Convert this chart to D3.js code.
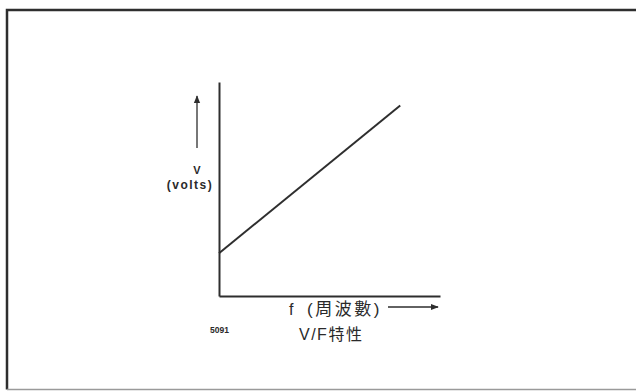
<!DOCTYPE html>
<html>
<head>
<meta charset="utf-8">
<script src="https://cdn.jsdelivr.net/npm/d3@7"></script>
<style>
  html, body { margin: 0; padding: 0; background: #fff; }
  svg { display: block; }
  text { fill: #2a2a2a; font-family: "Liberation Sans", "Noto Sans CJK TC", sans-serif; }
</style>
</head>
<body>
<svg id="chart" width="636" height="391"></svg>
<script>
// V/F characteristic: voltage rises linearly with frequency from a non-zero offset
const freq = [0, 82];
const volts = [20, 89];
const xSymbol = "f";
const xLabel = "(周波數)";
const yLabel = ["V", "(volts)"];
const title = "V/F特性";
const figNo = "5091";

const svg = d3.select("#chart");
const ink = "#2e2e2e";

// frame around the figure
svg.append("path")
  .attr("d", "M636,10 L7,10 L7,389.5")
  .attr("fill", "none").attr("stroke", ink).attr("stroke-width", 2.5);
svg.append("path")
  .attr("d", "M7,389.5 L636,389.5")
  .attr("fill", "none").attr("stroke", "#9a9a9a").attr("stroke-width", 1.5);

const x = d3.scaleLinear().domain([0, 100]).range([219, 440]);
const y = d3.scaleLinear().domain([0, 100]).range([296, 82]);

// axes without ticks
svg.append("g")
  .attr("transform", `translate(${x(0)},0)`)
  .call(d3.axisLeft(y).tickValues([]).tickSizeOuter(0))
  .call(g => g.select(".domain").attr("stroke", ink).attr("stroke-width", 2));
svg.append("g")
  .attr("transform", `translate(0,${y(0)})`)
  .call(d3.axisBottom(x).tickValues([]).tickSizeOuter(0))
  .call(g => g.select(".domain").attr("stroke", ink).attr("stroke-width", 2));

// characteristic line
const pts = freq.map((f, i) => [f, volts[i]]);
svg.append("path")
  .datum(pts)
  .attr("fill", "none")
  .attr("stroke", ink)
  .attr("stroke-width", 2)
  .attr("d", d3.line().x(d => x(d[0])).y(d => y(d[1])));

// arrow marker
svg.append("defs").append("marker")
  .attr("id", "arrow")
  .attr("viewBox", "0 0 10 10")
  .attr("refX", 9).attr("refY", 5)
  .attr("markerWidth", 8).attr("markerHeight", 8)
  .attr("markerUnits", "userSpaceOnUse")
  .attr("orient", "auto")
  .append("path").attr("d", "M0,1 L10,5 L0,9 Z").attr("fill", ink);

// vertical arrow and y label
svg.append("line")
  .attr("x1", 197).attr("y1", 148).attr("x2", 197).attr("y2", 96)
  .attr("stroke", ink).attr("stroke-width", 1.3).attr("marker-end", "url(#arrow)");
svg.append("text").attr("x", 197).attr("y", 174)
  .attr("text-anchor", "middle").attr("font-size", 11).attr("font-weight", "bold")
  .text(yLabel[0]);
svg.append("text").attr("x", 190).attr("y", 189)
  .attr("text-anchor", "middle").attr("font-size", 12).attr("font-weight", "bold")
  .attr("letter-spacing", 1.5)
  .text(yLabel[1]);

// horizontal label and arrow
svg.append("text").attr("x", 289).attr("y", 315)
  .attr("font-size", 16)
  .text(xSymbol);
svg.append("text").attr("x", 307).attr("y", 315)
  .attr("font-size", 17).attr("letter-spacing", 2.5)
  .text(xLabel);
svg.append("line")
  .attr("x1", 388).attr("y1", 307).attr("x2", 438).attr("y2", 307)
  .attr("stroke", ink).attr("stroke-width", 1.3).attr("marker-end", "url(#arrow)");

// figure number and caption
svg.append("text").attr("x", 210).attr("y", 333)
  .attr("font-size", 8.5).attr("font-weight", "bold")
  .text(figNo);
svg.append("text").attr("x", 299).attr("y", 340)
  .attr("font-size", 16).attr("letter-spacing", 1.5)
  .text(title);
</script>
</body>
</html>
